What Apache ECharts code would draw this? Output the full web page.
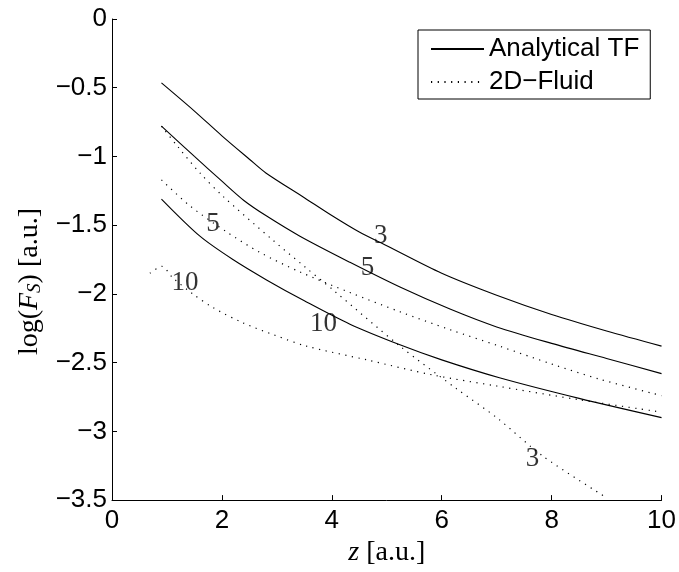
<!DOCTYPE html>
<html>
<head>
<meta charset="utf-8">
<script src="https://cdn.jsdelivr.net/npm/echarts@6/dist/echarts.min.js"></script>
<style>
html,body{margin:0;padding:0;background:#fff;}
#c{width:679px;height:572px;}
</style>
</head>
<body>
<div id="c"></div>
<script>
// ---- data ----
const xTicks = [0, 2, 4, 6, 8, 10];
const yTicks = [0, -0.5, -1, -1.5, -2, -2.5, -3, -3.5];

const analytical3 = [[0.9,-0.465],[1.5,-0.67],[2.0,-0.85],[2.5,-1.02],[2.8,-1.12],[3.5,-1.30],[4.0,-1.43],[4.5,-1.55],[5.0,-1.65],[6.0,-1.85],[7.0,-2.01],[8.0,-2.15],[9.0,-2.27],[10,-2.38]];
const analytical5 = [[0.9,-0.78],[1.5,-1.00],[2.0,-1.18],[2.4,-1.32],[2.8,-1.43],[3.42,-1.58],[4.33,-1.77],[5.24,-1.95],[6.15,-2.11],[7.0,-2.24],[8.0,-2.36],[9.0,-2.47],[10,-2.58]];
const analytical10 = [[0.9,-1.31],[1.6,-1.58],[2.2,-1.75],[2.82,-1.90],[3.5,-2.05],[4.33,-2.22],[5.24,-2.37],[6.0,-2.48],[7.05,-2.61],[8.5,-2.76],[10,-2.90]];

const fluid3 = [[0.9,-0.78],[1.2,-0.93],[1.6,-1.12],[2.02,-1.29],[2.93,-1.61],[3.5,-1.80],[4.02,-1.97],[5.24,-2.38],[6.27,-2.69],[7.0,-2.90],[7.84,-3.18],[8.95,-3.47]];
const fluid5 = [[0.9,-1.17],[1.42,-1.36],[2.09,-1.55],[2.7,-1.70],[3.42,-1.84],[4.33,-1.99],[5.24,-2.13],[6.15,-2.26],[7.05,-2.38],[8.0,-2.51],[8.87,-2.62],[10,-2.74]];
const fluid10 = [[0.69,-1.85],[0.91,-1.80],[1.1,-1.88],[1.47,-2.00],[1.84,-2.10],[2.38,-2.21],[2.96,-2.30],[3.54,-2.38],[4.64,-2.48],[5.84,-2.59],[7.0,-2.67],[8.5,-2.77],[10,-2.86]];

const curveLabelText = ['3', '5', '10', '5', '10', '3'];
const curveLabelX = [4.89, 4.65, 3.85, 1.84, 1.33, 7.65];
const curveLabelY = [-1.576, -1.81, -2.215, -1.49, -1.92, -3.20];

const legendNames = ['Analytical TF', '2D\u2212Fluid'];

// ---- chart ----
const sans = 'Liberation Sans, Arial, Helvetica, sans-serif';
const serif = 'Liberation Serif, Times New Roman, serif';

function solid(data) {
  return {type:'line', name:legendNames[0], data:data, showSymbol:false, symbol:'none',
    smooth:0.3,
    lineStyle:{color:'#000', width:1.1, type:'solid'}, itemStyle:{color:'#000'}, silent:true, z:3};
}
function dotted(data) {
  return {type:'line', name:legendNames[1], data:data, showSymbol:false, symbol:'none',
    smooth:0.3,
    lineStyle:{color:'#000', width:1.2, type:[1.2, 5.5]}, itemStyle:{color:'#000'}, silent:true, z:3};
}

const labelData = curveLabelText.map((t, i) => ({name:t, value:[curveLabelX[i], curveLabelY[i]]}));

const chart = echarts.init(document.getElementById('c'), null, {renderer:'canvas'});
chart.setOption({
  animation:false,
  backgroundColor:'#fff',
  grid:{left:112, right:17, top:19, bottom:71, containLabel:false},
  xAxis:{
    type:'value', min:0, max:10, interval:2,
    axisLine:{show:true, onZero:false, lineStyle:{color:'#000', width:1}},
    axisTick:{show:true, inside:true, length:5, lineStyle:{color:'#000'}},
    splitLine:{show:false},
    axisLabel:{color:'#000', fontSize:26, fontFamily:sans, margin:8,
      formatter:v => xTicks.includes(v) ? String(v) : ''},
    name:'{i|z}{r| [a.u.]}', nameLocation:'middle', nameGap:31,
    nameTextStyle:{rich:{
      i:{fontFamily:serif, fontStyle:'italic', fontSize:28, color:'#000'},
      r:{fontFamily:serif, fontSize:28, color:'#000'}
    }}
  },
  yAxis:{
    type:'value', min:-3.5, max:0, interval:0.5,
    axisLine:{show:true, onZero:false, lineStyle:{color:'#000', width:1}},
    axisTick:{show:true, inside:true, length:5, lineStyle:{color:'#000'}},
    splitLine:{show:false},
    axisLabel:{color:'#000', fontSize:26, fontFamily:sans, margin:5,
      formatter:v => yTicks.includes(v) ? String(v).replace('-', '\u2212') : ''},
    name:'{r|log}{r|(}{i|F}{s|S}{r|)}{r| [a.u.]}', nameLocation:'middle', nameGap:66,
    nameTextStyle:{padding:[0, 44, 0, 0], rich:{
      i:{fontFamily:serif, fontStyle:'italic', fontSize:28, color:'#000'},
      s:{fontFamily:serif, fontStyle:'italic', fontSize:19, color:'#000', padding:[12,0,0,0]},
      r:{fontFamily:serif, fontSize:28, color:'#000'}
    }}
  },
  legend:{
    data:legendNames, orient:'vertical', left:418, top:30,
    padding:[6, 11, 4, 12], itemGap:7, itemWidth:53, itemHeight:14, itemTextGap:7,
    borderColor:'#000', borderWidth:1, backgroundColor:'#fff',
    selectedMode:false,
    itemStyle:{opacity:0, borderWidth:0},
    textStyle:{color:'#000', fontSize:26, fontFamily:sans, lineHeight:26}
  },
  series:[
    solid(analytical3), solid(analytical5), solid(analytical10),
    dotted(fluid3), dotted(fluid5), dotted(fluid10),
    {type:'scatter', name:'labels', data:labelData, symbolSize:0, silent:true, z:5,
      label:{show:true, position:'inside', formatter:'{b}', color:'#000',
        fontFamily:serif, fontSize:27}}
  ]
});
</script>
</body>
</html>
